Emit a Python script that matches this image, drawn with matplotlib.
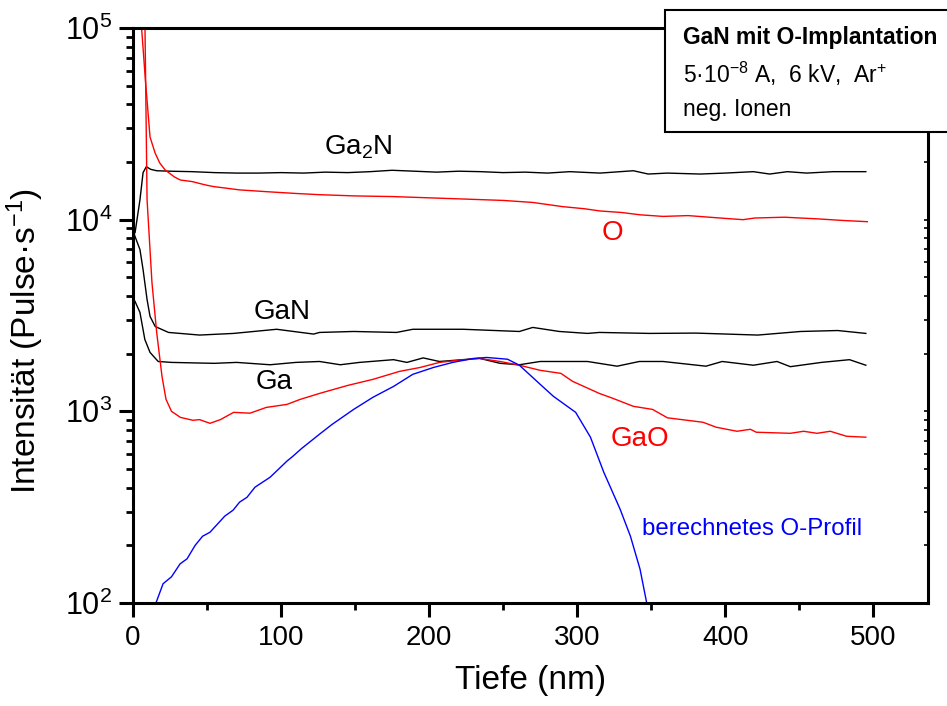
import numpy as np
import matplotlib
matplotlib.use("Agg")
import matplotlib.pyplot as plt
from matplotlib.patches import Rectangle
from matplotlib.ticker import FixedLocator, LogLocator, NullFormatter, FuncFormatter

plt.rcParams['font.family'] = ['Liberation Sans', 'DejaVu Sans']
plt.rcParams['mathtext.fontset'] = 'custom'
plt.rcParams['mathtext.rm'] = 'Liberation Sans'
plt.rcParams['mathtext.it'] = 'Liberation Sans:italic'
plt.rcParams['mathtext.bf'] = 'Liberation Sans:bold'

# ---------------- data ----------------
ga2n_x = [0, 1.4, 2.7, 4.7, 6.8, 9, 12, 16, 25, 40, 55, 70, 85, 100, 115, 130, 145, 160,
          175, 190, 205, 220, 235, 250, 265, 280, 295, 315.5, 338, 348, 361, 383, 400,
          419, 430, 442, 455, 473, 495]
ga2n_y = [8300, 8560, 10000, 12700, 17600, 18900, 18300, 18000, 17900, 17800, 17600, 17500,
          17500, 17600, 17500, 17700, 17600, 17800, 18100, 17900, 17700, 17900, 17800, 17600,
          17700, 17500, 17800, 17500, 18000, 17300, 17500, 17300, 17500, 17800, 17300, 17800,
          17500, 17800, 17800]

o_x = [5.0, 5.8, 8.5, 11.5, 14.9, 18, 21.6, 28, 32, 40, 48.6, 54, 72, 90, 110, 126, 150,
       175, 200, 225, 250, 270, 290, 305, 315.5, 330, 342.6, 358, 375, 396.6, 412, 420,
       440, 462, 480, 496]
o_y = [130000, 100000, 52000, 27000, 22300, 19800, 18200, 16700, 16100, 15800, 15200, 14900,
       14300, 14000, 13700, 13500, 13300, 13200, 13000, 12800, 12600, 12300, 11700, 11400,
       11100, 10900, 10600, 10400, 10500, 10200, 10000, 10200, 10300, 10100, 9900, 9760]

gan_x = [0, 1.4, 4.7, 6.8, 9.5, 11.5, 15, 24, 45, 68, 97, 122, 126, 149, 178, 189, 223,
         261, 270, 288, 307, 315, 349, 380, 422, 451, 476, 495]
gan_y = [8800, 8160, 6980, 5490, 3830, 3130, 2770, 2580, 2500, 2550, 2680, 2530, 2580, 2610,
         2580, 2680, 2680, 2610, 2740, 2610, 2550, 2580, 2550, 2560, 2500, 2610, 2640, 2550]

ga_x = [0, 1.4, 4.7, 8, 11.5, 17, 26, 40, 55, 70, 92.6, 110, 126, 140, 153, 176, 185, 196,
        207, 234, 248, 261, 275, 307, 327, 342, 358, 387, 398, 419, 435, 444, 465, 484, 495]
ga_y = [3900, 3740, 3280, 2370, 2030, 1820, 1800, 1790, 1780, 1800, 1750, 1800, 1820, 1750,
        1800, 1860, 1800, 1900, 1820, 1890, 1780, 1750, 1820, 1820, 1720, 1820, 1820, 1720,
        1820, 1740, 1820, 1710, 1800, 1860, 1740]

gao_x = [7.5, 8.1, 9.5, 12.8, 16, 19.6, 22.3, 26, 32, 40.5, 45, 52, 59, 68, 79, 90, 104,
         113, 126, 145, 162, 180, 194, 207, 221, 234, 248, 261, 275, 289, 297, 315, 324,
         338, 351, 361, 385, 394, 408, 417, 421, 444, 453, 462, 471, 482, 495]
gao_y = [150000, 100000, 12700, 4700, 2580, 1520, 1155, 1000, 930, 898, 905, 866, 905, 988,
         978, 1048, 1087, 1155, 1240, 1365, 1468, 1616, 1694, 1800, 1850, 1888, 1820, 1740,
         1637, 1578, 1433, 1240, 1170, 1062, 1023, 925, 877, 826, 787, 806, 778, 768, 787,
         768, 787, 741, 733]

prof_x = [15.5, 20.3, 26, 31.8, 36.5, 42, 47, 52, 62, 67.6, 72, 77, 82.4, 92.6, 104, 108,
          114, 126, 134.5, 149, 162, 176, 189, 203, 216, 230, 239, 253, 261, 275, 284, 299,
          309, 318, 329, 336, 342.5, 347]
prof_y = [100, 126, 137, 160, 170, 200, 223, 234, 284, 305, 336, 356, 402, 453, 550, 583,
          641, 760, 855, 1023, 1183, 1349, 1560, 1694, 1800, 1888, 1910, 1870, 1740, 1384,
          1197, 988, 733, 481, 309, 223, 150, 100]

x_ticks = [0, 100, 200, 300, 400, 500]
y_ticks = [1e2, 1e3, 1e4, 1e5]

# ---------------- figure ----------------
fig = plt.figure(figsize=(9.47, 7.06), dpi=100)
ax = fig.add_axes([133/947, 1-603/706, (928-133)/947, (603-28)/706])

lw = 1.0
ax.plot(ga2n_x, ga2n_y, color='black', lw=lw)
ax.plot(gan_x, gan_y, color='black', lw=lw)
ax.plot(ga_x, ga_y, color='black', lw=lw)
ax.plot(o_x, o_y, color='#ff0000', lw=lw)
ax.plot(gao_x, gao_y, color='#ff0000', lw=lw)
ax.plot(prof_x, prof_y, color='#0000ff', lw=lw)

ax.set_yscale('log')
ax.set_xlim(0, 537)
ax.set_ylim(1e2, 1e5)

ax.xaxis.set_major_locator(FixedLocator(x_ticks))
ax.xaxis.set_minor_locator(FixedLocator([50, 150, 250, 350, 450]))
ax.yaxis.set_major_locator(FixedLocator(y_ticks))
ax.yaxis.set_minor_locator(LogLocator(base=10, subs=np.arange(2, 10)))
ax.yaxis.set_minor_formatter(NullFormatter())
ax.yaxis.set_major_formatter(FuncFormatter(lambda v, p: r'$\mathregular{10^{%d}}$' % int(round(np.log10(v)))))

for s in ax.spines.values():
    s.set_linewidth(2.2)

ax.tick_params(axis='both', which='major', direction='out', length=10, width=2.2, pad=6)
ax.tick_params(axis='x', which='major', labelsize=20)
ax.tick_params(axis='y', which='major', labelsize=22, pad=5)
ax.tick_params(axis='both', which='minor', direction='out', length=5, width=2.0)
ax.tick_params(axis='y', which='both', right=False)
ax.tick_params(axis='x', which='both', top=False)

# small inner minor ticks on the right spine
ax2 = ax.twinx()
ax2.set_yscale('log')
ax2.set_ylim(ax.get_ylim())
ax2.yaxis.set_major_locator(FixedLocator(y_ticks))
ax2.yaxis.set_minor_locator(LogLocator(base=10, subs=np.arange(2, 10)))
ax2.yaxis.set_major_formatter(NullFormatter())
ax2.yaxis.set_minor_formatter(NullFormatter())
ax2.tick_params(axis='y', which='both', direction='in', length=3, width=1.2)
for s in ax2.spines.values():
    s.set_visible(False)

ax.set_xlabel('Tiefe (nm)', fontsize=24, labelpad=10)
ax.set_ylabel(r'Intensität (Pulse·s$\mathregular{^{-1}}$)', fontsize=24)
ax.yaxis.set_label_coords(-0.110, 0.456)

# curve labels
ax.text(152, 24000, r'Ga$\mathregular{_2}$N', fontsize=20, ha='center', va='center', color='black')
ax.text(324, 8560, 'O', fontsize=20, ha='center', va='center', color='#ff0000')
ax.text(100.7, 3280, 'GaN', fontsize=20, ha='center', va='center', color='black')
ax.text(95, 1416, 'Ga', fontsize=20, ha='center', va='center', color='black')
ax.text(342.6, 714, 'GaO', fontsize=20, ha='center', va='center', color='#ff0000')
ax.text(418, 243, 'berechnetes O-Profil', fontsize=17.3, ha='center', va='center', color='#0000ff')

# info box (extends past right edge)
box = Rectangle((665/947, 1-132/706), (960-665)/947, (132-10)/706, transform=fig.transFigure,
                facecolor='white', edgecolor='black', linewidth=1.5, zorder=5)
fig.add_artist(box)
fig.text(683/947, 1-44/706, 'GaN mit O-Implantation', fontsize=16.5, fontweight='bold',
         ha='left', va='baseline', zorder=6)
fig.text(683/947, 1-83/706, r'5·10$\mathregular{^{-8}}$ A,  6 kV,  Ar$\mathregular{^{+}}$',
         fontsize=16.5, ha='left', va='baseline', zorder=6)
fig.text(683/947, 1-116/706, 'neg. Ionen', fontsize=16.5, ha='left', va='baseline', zorder=6)

fig.savefig('out.png', dpi=100)
